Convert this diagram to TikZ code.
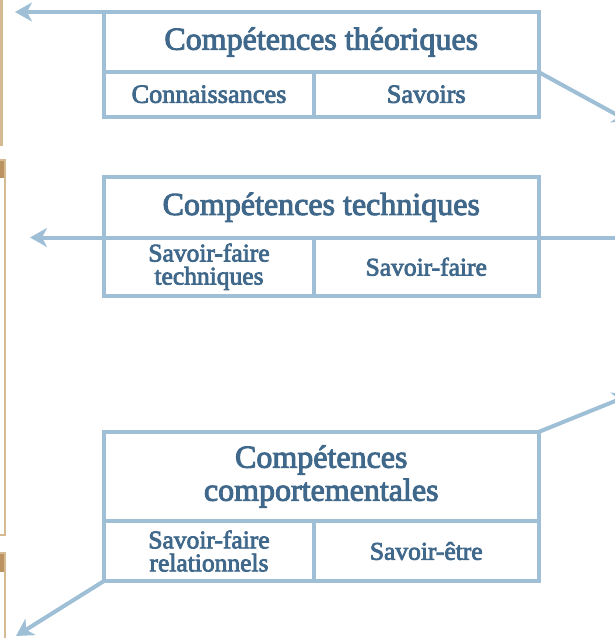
\documentclass[tikz,border=0pt]{standalone}
\usepackage{fontspec}
\setmainfont{Liberation Serif}
\newfontfamily\boxfont{Liberation Serif}[FakeBold=3]
\usetikzlibrary{arrows.meta}

\definecolor{lineblue}{RGB}{158,191,214}
\definecolor{textblue}{RGB}{64,104,138}
\definecolor{tanline}{RGB}{214,186,146}
\definecolor{tanfill}{RGB}{186,147,96}

\tikzset{every picture/.style={line width=4pt}}
\tikzset{
  cellbox/.style={draw=lineblue, line width=4pt, inner sep=0pt, outer sep=0pt, text=textblue, align=center},
  titlebox/.style={cellbox, minimum width=434.5pt, font=\boxfont\fontsize{32}{33}\selectfont},
  subbox/.style={cellbox, font=\boxfont\fontsize{25.5}{23}\selectfont},
  link/.style={draw=lineblue, line width=4pt, -{Stealth[length=17pt,width=19pt,inset=5pt]}},
  sidebox/.style={draw=tanline, line width=2.5pt}
}

\begin{document}
\begin{tikzpicture}[x=1pt,y=1pt,yscale=-1,xscale=1]
\useasboundingbox (0,0) rectangle (615,638);
\clip (0,0) rectangle (615,638);

% Side frames
\draw[sidebox] (-100,-50) rectangle (1.5,145);
\fill[tanfill] (-100,160) rectangle (5,178);
\draw[sidebox] (-100,160) rectangle (5,535);
\fill[tanfill] (-100,553) rectangle (5,572);
\draw[sidebox] (-100,553) rectangle (5,700);

% Text Node
\node[titlebox, minimum height=60pt] (theo) at (321.25,42) {Compétences théoriques};
\node[subbox, minimum width=210pt, minimum height=44.5pt, font=\boxfont\fontsize{26.3}{23}\selectfont] (theoL) at (209,94.25) {Connaissances};
\node[subbox, minimum width=224.5pt, minimum height=44.5pt, font=\boxfont\fontsize{26.3}{23}\selectfont] (theoR) at (426.25,94.25) {Savoirs};
% Text Node
\node[titlebox, minimum height=60.5pt] (tech) at (321.25,207.25) {Compétences techniques};
\node[subbox, minimum width=210pt, minimum height=58.5pt] (techL) at (209,266.75) {Savoir-faire\\techniques};
\node[subbox, minimum width=224.5pt, minimum height=58.5pt] (techR) at (426.25,266.75) {Savoir-faire};
% Text Node
\node[titlebox, minimum height=89pt] (comp) at (321.25,476.5) {Compétences\\comportementales};
\node[subbox, minimum width=210pt, minimum height=60pt] (compL) at (209,551) {Savoir-faire\\relationnels};
\node[subbox, minimum width=224.5pt, minimum height=60pt] (compR) at (426.25,551) {Savoir-être};

% Free ends
\coordinate (endA) at (15,12);
\coordinate (endB) at (630,122);
\coordinate (endC) at (30,237.5);
\coordinate (endD) at (632,237.5);
\coordinate (endE) at (630,395);
\coordinate (endF) at (16,636);

% Connection
\draw[link] (theo.north west) -- (endA);
\draw[link] (theo.south east) -- (endB);
\draw[link] (tech.south west) -- (endC);
\draw[link] (tech.south east) -- (endD);
\draw[link] (comp.north east) -- (endE);
\draw[link] (compL.south west) -- (endF);

\end{tikzpicture}
\end{document}
